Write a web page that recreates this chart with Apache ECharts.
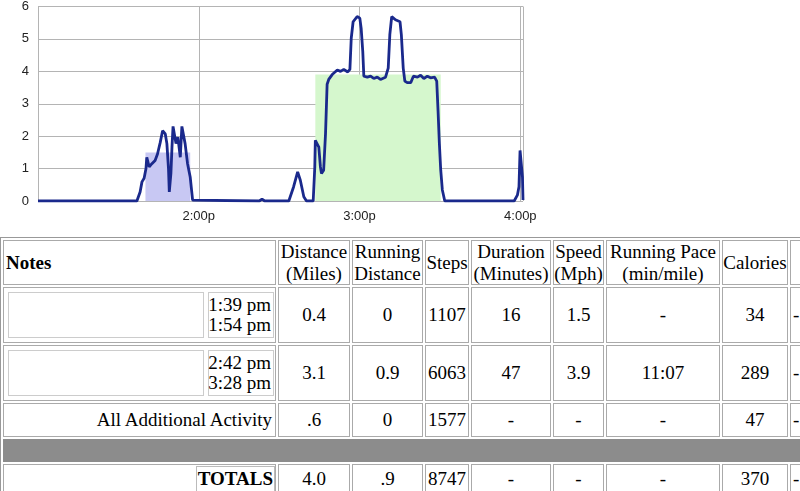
<!DOCTYPE html>
<html>
<head>
<meta charset="utf-8">
<script src="https://cdn.jsdelivr.net/npm/echarts@6/dist/echarts.min.js"></script>
<style>
body { margin: 0; width: 800px; height: 491px; overflow: hidden; background: #fff; position: relative; }
#main { position: absolute; left: 0; top: 0; width: 800px; height: 232px; }
#report {
    position: absolute; left: 0; top: 237px;
    border: 1px solid #999; padding: 2px;
    display: grid;
    grid-template-columns: 273px 72px 71px 44px 80px 51px 114px 66px 40px;
    grid-template-rows: 45px 56px 56px 34px 23px 30px;
    gap: 2px;
    font-family: "Liberation Serif", "Times New Roman", serif; font-size: 19px; color: #000;
}
#report .c {
    border: 1px solid #aaa; box-sizing: border-box;
    display: flex; align-items: center; justify-content: center;
    text-align: center; white-space: nowrap; line-height: 22px; overflow: hidden;
}
#report .notes { justify-content: flex-start; font-weight: bold; padding-left: 2px; }
#report .left { justify-content: flex-start; padding-left: 2px; }
#report .bout { justify-content: stretch; align-items: stretch; padding: 4px 1px 4px 4px; gap: 4px; }
#report .bout .box1 { flex: 1; border: 1px solid #ccc; }
#report .bout .box2 {
    width: 66px; box-sizing: border-box; border: 1px solid #ccc; line-height: 20px;
    display: flex; flex-direction: column; justify-content: center; align-items: flex-end; padding-right: 2px;
}
#report .right { justify-content: flex-end; padding-right: 3px; }
#report .gray { grid-column: 1 / -1; background: #8c8c8c; }
#report .tot { justify-content: flex-end; align-items: flex-start; padding-top: 1px; }
#report .tot span { border: 1px solid #bbb; font-weight: bold; padding: 0 1px; line-height: 24px; }
</style>
</head>
<body>
<div id="main"></div>
<div id="report"></div>
<script>
// speed trace (minutes after 1:00p, mph)
var timeMin = [0, 36.9, 38.1, 38.8, 39.6, 40.3, 40.6, 41.5, 42.5, 43.7, 44.6, 45.6, 46.5, 47.5, 48.1, 48.7, 49.0, 49.6, 50.0, 50.4, 51.0, 51.5, 52.2, 53.1, 53.7, 54.3, 54.9, 55.8, 56.8, 57.7,
    82.6, 83.6, 84.6,
    93.6, 95.4, 96.9, 97.9, 99.2, 100.2, 102.7,
    103.3, 103.5, 104.2, 104.8, 105.4, 105.8, 106.6, 107.3, 107.9, 108.5, 109.8, 111.7, 112.9, 114.1, 115.6, 116.4,
    116.9, 117.6, 119.1, 120.1, 120.6, 121.2, 121.6, 122.9, 124.1, 125.3, 126.6, 127.8, 129.7,
    130.7, 131.3, 132.0, 132.6, 133.4, 135.1, 135.6, 136.3, 136.9, 137.8, 139.1,
    140.1, 141.6, 142.8, 144.0, 145.3, 146.5, 148.0, 148.8, 149.3, 149.8, 150.3, 150.9, 151.8,
    177.7, 178.9, 179.5, 179.9, 180.4, 180.8, 181];
var speed = [0, 0, 0.28, 0.59, 0.7, 1.0, 1.35, 1.05, 1.15, 1.25, 1.45, 1.8, 2.17, 2.07, 1.77, 1.0, 0.28, 0.85, 1.66, 2.3, 2.28, 1.77, 1.97, 1.35, 2.3, 2.28, 1.77, 1.16, 0.74, 0.03,
    0, 0.06, 0,
    0, 0.44, 0.9, 0.64, 0.13, 0, 0,
    1.05, 1.87, 1.92, 1.66, 1.05, 0.85, 0.95, 2.07, 3.6, 3.75, 3.9, 4.04, 4.0, 4.06, 3.98, 4.06,
    5.02, 5.53, 5.69, 5.64, 5.33, 4.62, 3.85, 3.82, 3.85, 3.78, 3.82, 3.75, 3.82,
    4.1, 5.13, 5.69, 5.74, 5.59, 5.53, 5.13, 4.1, 3.7, 3.65, 3.65,
    3.85, 3.82, 3.88, 3.78, 3.85, 3.8, 3.82, 3.7, 2.78, 1.76, 0.95, 0.34, 0,
    0, 0.18, 0.44, 1.56, 1.51, 0.74, 0.03];

// activity bouts (shaded)
var boutStart = [40.1, 103.5];
var boutEnd = [56.8, 150.3];
var boutSpeed = [1.5, 3.9];
var boutColors = ['#c8c8f3', '#d5f7cd'];

// table
var headers = ['Notes', 'Distance<br>(Miles)', 'Running<br>Distance', 'Steps', 'Duration<br>(Minutes)', 'Speed<br>(Mph)', 'Running Pace<br>(min/mile)', 'Calories', ''];
var boutTimes = [['1:39 pm', '1:54 pm'], ['2:42 pm', '3:28 pm']];
var distance = ['0.4', '3.1', '.6'];
var runDistance = ['0', '0.9', '0'];
var steps = ['1107', '6063', '1577'];
var duration = ['16', '47', '-'];
var speedMph = ['1.5', '3.9', '-'];
var runPace = ['-', '11:07', '-'];
var calories = ['34', '289', '47'];
var totals = ['4.0', '.9', '8747', '-', '-', '-', '370'];

var myChart = echarts.init(document.getElementById('main'));
var gridColor = '#b4b4b4';

var seriesList = [];
for (var i = 0; i < boutStart.length; i++) {
    seriesList.push({
        type: 'line', silent: true, symbol: 'none', z: 1,
        data: [[boutStart[i], boutSpeed[i]], [boutEnd[i], boutSpeed[i]]],
        lineStyle: { width: 0 },
        areaStyle: { color: boutColors[i], opacity: 1 }
    });
}
var trace = [];
for (var j = 0; j < timeMin.length; j++) trace.push([timeMin[j], speed[j]]);
seriesList.push({
    type: 'line', symbol: 'none', z: 3, data: trace,
    lineStyle: { color: '#1a298c', width: 2.8 }
});

var option = {
    animation: false,
    grid: { left: 38, right: 277, top: 5, height: 196 },
    xAxis: {
        type: 'value', min: 0, max: 181, interval: 60,
        axisLine: { show: false }, axisTick: { show: false },
        splitLine: { lineStyle: { color: gridColor, width: 1 } },
        axisLabel: {
            color: '#222', fontFamily: 'Arial', fontSize: 13, margin: 9,
            formatter: function (v) { return (v > 0 && v % 60 === 0) ? (1 + v / 60) + ':00p' : ''; }
        }
    },
    yAxis: {
        type: 'value', min: 0, max: 6, interval: 1,
        axisLine: { show: true, lineStyle: { color: gridColor } }, axisTick: { show: false },
        splitLine: { lineStyle: { color: gridColor, width: 1 } },
        axisLabel: { color: '#222', fontFamily: 'Arial', fontSize: 13, margin: 9 }
    },
    series: seriesList
};
myChart.setOption(option);

// build the report table
var html = '';
headers.forEach(function (h, k) {
    html += '<div class="c' + (k === 0 ? ' notes' : '') + '">' + (k === 0 ? h : '<div>' + h + '</div>') + '</div>';
});
for (var r = 0; r < 3; r++) {
    if (r < boutTimes.length) {
        html += '<div class="c bout"><div class="box1"></div><div class="box2"><div>' + boutTimes[r][0] + '</div><div>' + boutTimes[r][1] + '</div></div></div>';
    } else {
        html += '<div class="c right">All Additional Activity</div>';
    }
    [distance, runDistance, steps, duration, speedMph, runPace, calories].forEach(function (col) {
        html += '<div class="c">' + col[r] + '</div>';
    });
    html += '<div class="c left">-</div>';
}
html += '<div class="gray"></div>';
html += '<div class="c tot"><span>TOTALS</span></div>';
totals.forEach(function (t) { html += '<div class="c">' + t + '</div>'; });
html += '<div class="c left">-</div>';
document.getElementById('report').innerHTML = html;
</script>
</body>
</html>
